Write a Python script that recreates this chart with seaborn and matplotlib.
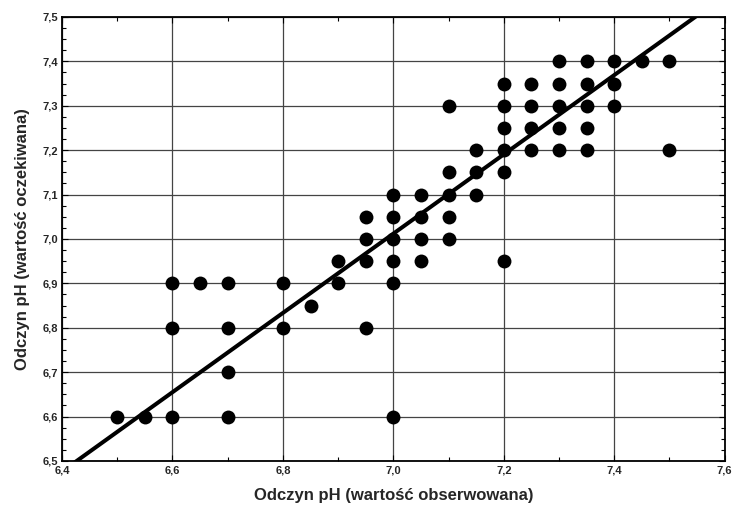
import matplotlib
matplotlib.use("Agg")
import matplotlib.pyplot as plt
import matplotlib.ticker as mticker
import seaborn as sns
import pandas as pd
import numpy as np

# Observed pH values (x) and expected pH values (y)
observed = [7.30, 7.35, 7.40, 7.45, 7.50,
            7.20, 7.25, 7.30, 7.35, 7.40,
            7.10, 7.20, 7.25, 7.30, 7.35, 7.40,
            7.20, 7.25, 7.30, 7.35,
            7.15, 7.20, 7.25, 7.30, 7.35, 7.50,
            7.10, 7.15, 7.20,
            7.00, 7.05, 7.10, 7.15,
            6.95, 7.00, 7.05, 7.10,
            6.95, 7.00, 7.05, 7.10,
            6.90, 6.95, 7.00, 7.05, 7.20,
            6.60, 6.65, 6.70, 6.80, 6.90, 7.00,
            6.85,
            6.60, 6.70, 6.80, 6.95,
            6.70,
            6.50, 6.55, 6.60, 6.70, 7.00]
expected = [7.40, 7.40, 7.40, 7.40, 7.40,
            7.35, 7.35, 7.35, 7.35, 7.35,
            7.30, 7.30, 7.30, 7.30, 7.30, 7.30,
            7.25, 7.25, 7.25, 7.25,
            7.20, 7.20, 7.20, 7.20, 7.20, 7.20,
            7.15, 7.15, 7.15,
            7.10, 7.10, 7.10, 7.10,
            7.05, 7.05, 7.05, 7.05,
            7.00, 7.00, 7.00, 7.00,
            6.95, 6.95, 6.95, 6.95, 6.95,
            6.90, 6.90, 6.90, 6.90, 6.90, 6.90,
            6.85,
            6.80, 6.80, 6.80, 6.80,
            6.70,
            6.60, 6.60, 6.60, 6.60, 6.60]

# Fitted line
line_intercept = 0.761
line_slope = 0.893
x_ticks = [6.4, 6.6, 6.8, 7.0, 7.2, 7.4, 7.6]
y_ticks = [6.5, 6.6, 6.7, 6.8, 6.9, 7.0, 7.1, 7.2, 7.3, 7.4, 7.5]

sns.set_theme(style="white")
plt.rcParams['font.family'] = ['Liberation Sans', 'DejaVu Sans']

fig = plt.figure(figsize=(7.35, 5.15), dpi=100)
ax = fig.add_axes([0.0844, 0.105, 0.9016, 0.862])

df = pd.DataFrame({"obs": observed, "exp": expected})
sns.scatterplot(data=df, x="obs", y="exp", ax=ax, color="black", s=100,
                edgecolor="black", linewidth=0, zorder=3)

line_x = np.array([x_ticks[0], x_ticks[-1]])
line_df = pd.DataFrame({"x": line_x, "y": line_intercept + line_slope * line_x})
sns.lineplot(data=line_df, x="x", y="y", ax=ax, color="black", linewidth=2.9, zorder=4)

ax.set_xlim(x_ticks[0], x_ticks[-1])
ax.set_ylim(y_ticks[0], y_ticks[-1])
ax.set_xticks(x_ticks)
ax.set_yticks(y_ticks)
fmt = lambda v, p: f"{v:.1f}".replace(".", ",")
ax.xaxis.set_major_formatter(mticker.FuncFormatter(fmt))
ax.yaxis.set_major_formatter(mticker.FuncFormatter(fmt))
ax.xaxis.set_minor_locator(mticker.MultipleLocator(0.1))
ax.yaxis.set_minor_locator(mticker.MultipleLocator(0.025))

ax.grid(True, which="major", color="#444444", linewidth=0.9)
ax.tick_params(which="both", direction="in", top=True, right=True, bottom=True, left=True,
               color="black")
ax.tick_params(which="major", length=4, width=0.8, labelsize=8, pad=3)
ax.tick_params(which="minor", length=3, width=0.8)
for lbl in ax.get_xticklabels() + ax.get_yticklabels():
    lbl.set_fontweight("bold")
for sp in ax.spines.values():
    sp.set_color("black")
    sp.set_linewidth(1.3)

ax.set_xlabel("Odczyn pH (wartość obserwowana)", fontsize=12, fontweight="bold", labelpad=9)
ax.set_ylabel("Odczyn pH (wartość oczekiwana)", fontsize=12, fontweight="bold", labelpad=9)

fig.savefig("out.png", dpi=100)
